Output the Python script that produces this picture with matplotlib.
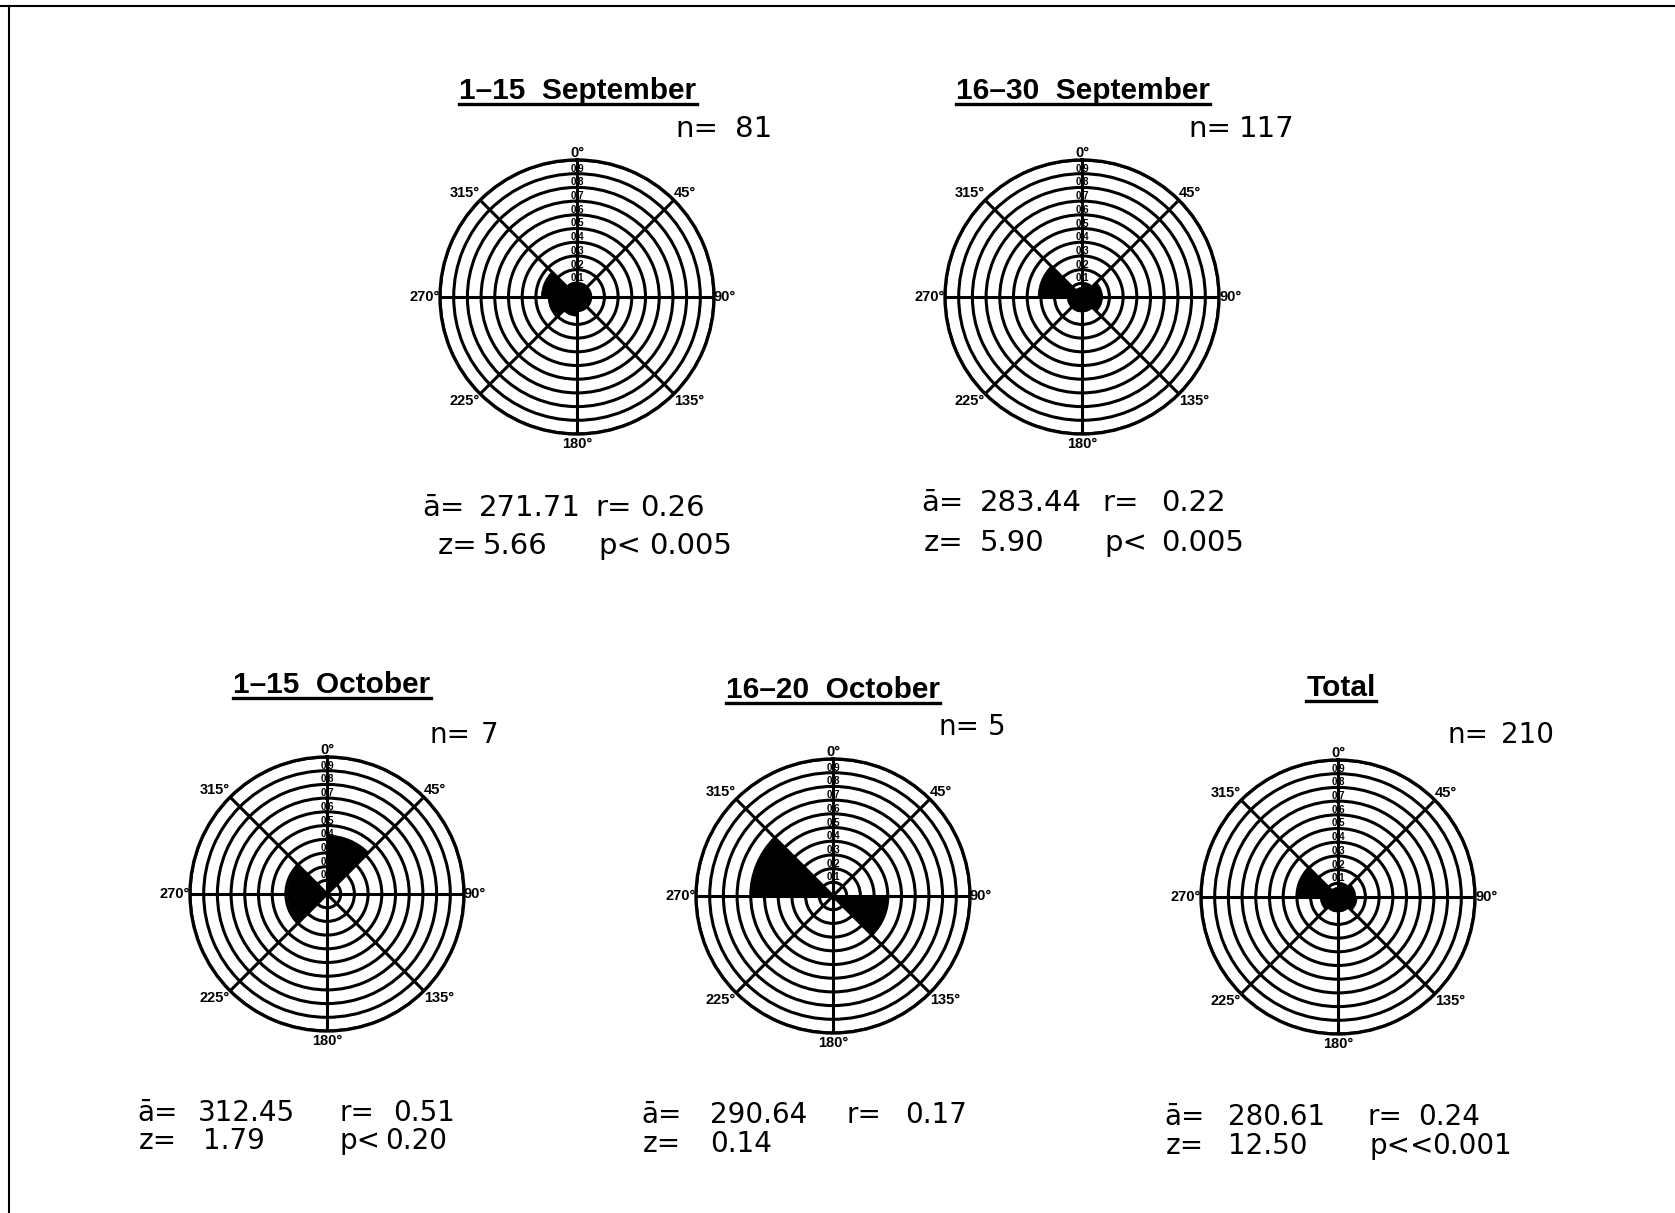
import numpy as np
import matplotlib
matplotlib.use("Agg")
import matplotlib.pyplot as plt
from matplotlib.lines import Line2D

### DATA ###
periods = ["1\u201315  September", "16\u201330  September", "1\u201315  October", "16\u201320  October", "Total"]
n_values = [81, 117, 7, 5, 210]
mean_angles = [271.71, 283.44, 312.45, 290.64, 280.61]
r_values = [0.26, 0.22, 0.51, 0.17, 0.24]
z_values = [5.66, 5.90, 1.79, 0.14, 12.50]
p_signs = ["p<", "p<", "p<", "", "p<<"]
p_values = ["0.005", "0.005", "0.20", "", "0.001"]

# 45 degree sectors, starting at 0 (north), clockwise
sector_start = [0, 45, 90, 135, 180, 225, 270, 315]
freq_sep_1_15 = [0.09, 0.10, 0.10, 0.10, 0.14, 0.21, 0.26, 0.11]
freq_sep_16_30 = [0.09, 0.15, 0.15, 0.11, 0.11, 0.10, 0.32, 0.07]
freq_oct_1_15 = [0.43, 0.0, 0.0, 0.0, 0.0, 0.29, 0.29, 0.0]
freq_oct_16_20 = [0.0, 0.0, 0.40, 0.0, 0.0, 0.0, 0.60, 0.0]
freq_total = [0.09, 0.13, 0.14, 0.11, 0.11, 0.13, 0.30, 0.07]
frequencies = [freq_sep_1_15, freq_sep_16_30, freq_oct_1_15, freq_oct_16_20, freq_total]

ring_ticks = [0.1, 0.2, 0.3, 0.4, 0.5, 0.6, 0.7, 0.8, 0.9, 1.0]
ring_labels = ["0.1", "0.2", "0.3", "0.4", "0.5", "0.6", "0.7", "0.8", "0.9"]

### LAYOUT (pixels) ###
W, H = 1675, 1213
R = 137
# row1 = (y, [x of a=, mean, r=, r value]); row2 = (y, [x of z=, z value, p sign, p value])
layout = [
    dict(center=(577, 297), title=(578, 99), n=(675, 735, 129), fs=21,
         row1=(508, [422, 479, 595, 640]), row2=(546, [438, 483, 598, 649])),
    dict(center=(1082, 297), title=(1083, 99), n=(1188, 1239, 129), fs=21,
         row1=(503, [921, 980, 1102, 1161]), row2=(543, [924, 980, 1104, 1161])),
    dict(center=(327, 894), title=(332, 693), n=(429, 481, 735), fs=20,
         row1=(1113, [137, 198, 339, 393]), row2=(1141, [139, 203, 340, 385])),
    dict(center=(833, 896), title=(833, 698), n=(938, 988, 727), fs=20,
         row1=(1115, [641, 710, 847, 905]), row2=(1144, [643, 710, 0, 0])),
    dict(center=(1338, 897), title=(1341, 696), n=(1447, 1501, 735), fs=20,
         row1=(1117, [1164, 1228, 1367, 1418]), row2=(1146, [1166, 1228, 1370, 1432])),
]

plt.rcParams['font.family'] = ['Liberation Sans', 'DejaVu Sans']

fig = plt.figure(figsize=(W / 100, H / 100), dpi=100)
fig.patch.set_facecolor("white")


def fx(x):
    return x / W


def fy(y):
    return 1 - y / H


def draw_rose(ax, freqs):
    ax.set_theta_zero_location("N")
    ax.set_theta_direction(-1)
    theta = np.deg2rad(np.array(sector_start) + 22.5)
    ax.bar(theta, freqs, width=np.deg2rad(45), color="black", edgecolor="black", linewidth=0.5, zorder=3)
    ax.set_ylim(0, 1)
    ax.set_yticks(ring_ticks)
    ax.set_yticklabels([])
    ax.set_xticks(np.deg2rad(np.arange(0, 360, 45)))
    ax.set_xticklabels([])
    ax.grid(True, color="black", linewidth=2.2, zorder=2)
    ax.spines["polar"].set_linewidth(2.4)
    ax.set_axisbelow(True)
    for r, lab in zip(ring_ticks, ring_labels):
        ax.text(0, r, lab, ha="center", va="bottom", fontsize=7, fontweight="bold", zorder=5)
    # direction labels
    lab_style = dict(fontsize=10.5, fontweight="bold", clip_on=False)
    ax.text(0, 1.0, "0\u00b0", ha="center", va="bottom", **lab_style)
    ax.text(np.deg2rad(45), 1.0, "45\u00b0", ha="left", va="bottom", **lab_style)
    ax.text(np.deg2rad(90), 1.0, "90\u00b0", ha="left", va="center", **lab_style)
    ax.text(np.deg2rad(135), 1.0, "135\u00b0", ha="left", va="top", **lab_style)
    ax.text(np.deg2rad(180), 1.02, "180\u00b0", ha="center", va="top", **lab_style)
    ax.text(np.deg2rad(225), 1.0, "225\u00b0", ha="right", va="top", **lab_style)
    ax.text(np.deg2rad(270), 1.0, "270\u00b0", ha="right", va="center", **lab_style)
    ax.text(np.deg2rad(315), 1.0, "315\u00b0", ha="right", va="bottom", **lab_style)


renderer = fig.canvas.get_renderer()
stat_family = ["DejaVu Sans"]

for i, lay in enumerate(layout):
    cx, cy = lay["center"]
    ax = fig.add_axes([fx(cx - R), fy(cy + R), 2 * R / W, 2 * R / H], projection="polar")
    draw_rose(ax, frequencies[i])

    # underlined title
    tx, ty = lay["title"]
    t = fig.text(fx(tx), fy(ty), periods[i], ha="center", va="baseline", fontsize=21.5, fontweight="bold")
    bb = t.get_window_extent(renderer=renderer)
    uy = fy(ty + 5)
    fig.add_artist(Line2D([bb.x0 / W, bb.x1 / W], [uy, uy], color="black", linewidth=2.4,
                          transform=fig.transFigure))

    fs = lay["fs"]
    st = dict(ha="left", va="center", fontsize=fs, family=stat_family)
    nx, nnum, ny = lay["n"]
    fig.text(fx(nx), fy(ny), "n=", **st)
    fig.text(fx(nnum), fy(ny), "%d" % n_values[i], **st)

    y1, xs1 = lay["row1"]
    fig.text(fx(xs1[0]), fy(y1), "\u0101=", **st)
    fig.text(fx(xs1[1]), fy(y1), "%.2f" % mean_angles[i], **st)
    fig.text(fx(xs1[2]), fy(y1), "r=", **st)
    fig.text(fx(xs1[3]), fy(y1), "%.2f" % r_values[i], **st)

    y2, xs2 = lay["row2"]
    fig.text(fx(xs2[0]), fy(y2), "z=", **st)
    fig.text(fx(xs2[1]), fy(y2), "%.2f" % z_values[i], **st)
    if p_signs[i]:
        fig.text(fx(xs2[2]), fy(y2), p_signs[i], **st)
        fig.text(fx(xs2[3]), fy(y2), p_values[i], **st)

# page frame (top and left edge of the scanned sheet)
fig.add_artist(Line2D([0, 1], [fy(6), fy(6)], color="black", linewidth=1.5, transform=fig.transFigure))
fig.add_artist(Line2D([fx(9), fx(9)], [0, fy(6)], color="black", linewidth=1.5, transform=fig.transFigure))

fig.savefig("out.png", dpi=100, facecolor="white")
